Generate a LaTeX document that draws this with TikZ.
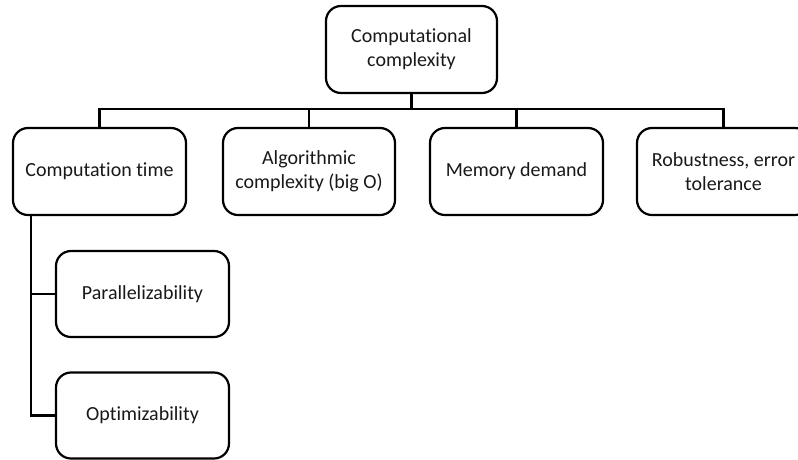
\documentclass[tikz,border=0pt]{standalone}
\usepackage{fontspec}
\setmainfont[Ligatures={NoCommon}]{Carlito}
\begin{document}
\begin{tikzpicture}[x=1pt,y=-1pt,
  box/.style={draw=black, line width=2.2pt, rounded corners=15pt, fill=white,
    minimum width=173pt, minimum height=87pt, align=center, inner sep=2pt,
    font=\fontsize{20}{24}\selectfont, text=black!90},
  link/.style={draw=black, line width=2.2pt}]
  \clip (0,0) rectangle (798,459);
  \fill[white] (0,0) rectangle (798,459);

  % top level
  \node[box, minimum width=171pt] (root) at (411.5,49.5) {Computational\\complexity};

  % second level
  \node[box] (ct)  at (99.5,171.5)  {Computation time};
  \node[box, minimum width=172pt] (alg) at (309,171.5) {Algorithmic\\complexity (big O)};
  \node[box] (mem) at (516.5,171.5) {Memory demand};
  \node[box] (rob) at (723.5,171.5) {Robustness, error\\tolerance};

  % third level under computation time
  \node[box, minimum height=86pt] (par) at (142.5,294) {Parallelizability};
  \node[box, minimum height=86pt] (opt) at (142.5,415.5) {Optimizability};

  % bus between levels
  \coordinate (busL) at (ct.north |- 0,109);
  \coordinate (busR) at (rob.north |- 0,109);
  \draw[link] (root.south) -- (root.south |- busL);
  \draw[link, line cap=rect] (busL) -- (busR);
  \draw[link] (busL) -- (ct.north);
  \draw[link] (alg.north |- busL) -- (alg.north);
  \draw[link] (mem.north |- busL) -- (mem.north);
  \draw[link] (busR) -- (rob.north);

  % branch on the left
  \coordinate (spine) at (31,0);
  \draw[link] (spine |- ct.south) |- (opt.west);
  \draw[link] (spine |- par.west) -- (par.west);
\end{tikzpicture}
\end{document}
